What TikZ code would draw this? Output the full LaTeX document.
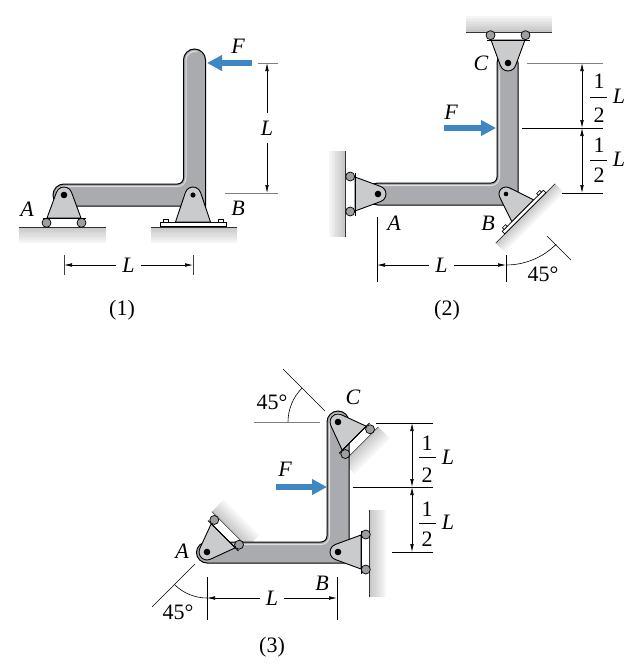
\documentclass[tikz,border=0pt]{standalone}
\usepackage{fontspec}
\setmainfont{Liberation Serif}
\usetikzlibrary{arrows.meta,calc}
\definecolor{barfill}{HTML}{A9ABAE}
\definecolor{supfill}{HTML}{CACBCD}
\definecolor{rollfill}{HTML}{9C9EA1}
\definecolor{forceblue}{HTML}{3E86C4}
\tikzset{
 barst/.style={fill=barfill, draw=black, line width=1pt, line join=miter},
 hilite/.style={draw=white!88!black, line width=1pt},
 supp/.style={fill=supfill, draw=black, line width=0.9pt, line join=round},
 roll/.style={fill=rollfill, draw=black, line width=0.7pt},
 plate/.style={fill=white, draw=black, line width=0.7pt},
 extl/.style={line width=0.6pt, draw=black},
 extg/.style={line width=0.6pt, draw=black!50},
 dimar/.style={line width=0.6pt, {Latex[length=8pt,width=3.6pt]}-{Latex[length=8pt,width=3.6pt]}},
 force/.style={draw=forceblue, line width=6.5pt, -{Triangle[length=15pt,width=15pt]}},
 lab/.style={font=\fontsize{22}{26}\selectfont\itshape, inner sep=0pt},
 num/.style={font=\fontsize{22}{26}\selectfont, inner sep=0pt},
 gaplab/.style={lab, fill=white, inner xsep=6pt, inner ysep=8pt},
}
% ground block: x, y, rotation, distance to surface, half length, width
\newcommand\gblock[6]{%
 \begin{scope}[shift={(#1,#2)},rotate=#3]
  \foreach \i in {0,...,9}{%
    \pgfmathtruncatemacro\cc{22-2*\i}%
    \fill[black!\cc] (-#5,{#4+\i*#6/10}) rectangle (#5,{#4+(\i+1)*#6/10+0.3});}
  \draw[line width=0.6pt, black!80] (-#5,#4) -- (#5,#4);
 \end{scope}}
% roller support: x, y, rotation, scale
\newcommand\rollsup[4]{%
 \begin{scope}[shift={(#1,#2)},rotate=#3,scale=#4]
  \draw[supp] (-17,23) -- (200.3:8) arc[start angle=200.3,end angle=339.7,radius=8] -- (17,23) -- cycle;
  \draw[line width=0.9pt] (-21.5,23) -- (21.5,23);
  \draw[roll] (-17.5,27.8) circle[radius=4.5];
  \draw[roll] (17.5,27.8) circle[radius=4.5];
  \fill (0,0) circle[radius=3.3];
 \end{scope}}
% pinned support: x, y, rotation, scale
\newcommand\pinsup[4]{%
 \begin{scope}[shift={(#1,#2)},rotate=#3,scale=#4]
  \draw[supp] (-17.5,27) -- (198.6:8) arc[start angle=198.6,end angle=341.4,radius=8] -- (17.5,27) -- cycle;
  \draw[plate] (-33,27) rectangle (33,31);
  \draw[plate] (-30,24.3) rectangle (-25,27);
  \draw[plate] (25,24.3) rectangle (30,27);
  \fill (0,0) circle[radius=2.6];
 \end{scope}}
\begin{document}
\begin{tikzpicture}[x=1pt,y=1pt,yscale=-1]
\useasboundingbox (0,0) rectangle (641,664);

%================ (1) ================
\gblock{62.5}{195}{0}{32}{43.5}{16}
\gblock{194}{195}{0}{32}{43}{16}
\draw[barst] (64,184) -- (177.5,184) arc[start angle=90,end angle=0,radius=6]
  -- (183.5,60) arc[start angle=180,end angle=360,radius=11]
  -- (205.5,206) -- (64,206) arc[start angle=90,end angle=270,radius=11] -- cycle;
\draw[hilite] ([shift={(205:8.5)}]64,195) arc[start angle=205,end angle=270,radius=8.5]
  -- (177.5,186.5) arc[start angle=90,end angle=0,radius=8.5]
  -- (186,60) arc[start angle=180,end angle=290,radius=8.5];
\rollsup{64}{195}{0}{1}
\pinsup{193}{195}{0}{1}
\coordinate (F1t) at (252,63); \coordinate (F1h) at (207,63);
\draw[force] (F1t) -- (F1h);
\node[lab] (F1) at (238,46) {F};
\draw[extg] (258,63) -- (278,63);
\draw[extg] (225,193) -- (278,193);
\coordinate (V1a) at (267,63); \coordinate (V1b) at (267,193);
\draw[dimar] (V1a) -- (V1b) node[midway,gaplab] (L1v) {L};
\draw[line width=0.6pt, black!75] (64,255) -- (64,275);
\draw[line width=0.6pt, black!75] (193,255) -- (193,275);
\coordinate (H1a) at (64,265); \coordinate (H1b) at (193,265);
\draw[dimar] (H1a) -- (H1b) node[midway,gaplab] (L1h) {L};
\node[lab] (A1) at (27,209) {A};
\node[lab] (B1) at (238,208) {B};
\node[num] (T1) at (122,310) {(1)};

%================ (2) ================
\gblock{509}{63}{180}{31}{43}{16}
\gblock{378}{194}{90}{33}{43}{16}
\gblock{506}{194}{-45}{27.5}{42}{12}
\draw[barst] (378,183) -- (491,183) arc[start angle=90,end angle=0,radius=6]
  -- (497,63) arc[start angle=180,end angle=360,radius=10.5]
  -- (518,205) -- (378,205) arc[start angle=90,end angle=270,radius=11] -- cycle;
\draw[hilite] ([shift={(230:8.5)}]378,194) arc[start angle=230,end angle=270,radius=8.5]
  -- (491,185.5) arc[start angle=90,end angle=0,radius=8.5] -- (499.5,70);
\rollsup{508}{63}{180}{1}
\rollsup{378}{194}{90}{1}
\pinsup{506}{194}{-45}{0.88}
\coordinate (F2t) at (444,128); \coordinate (F2h) at (496,128);
\draw[force] (F2t) -- (F2h);
\node[lab] (F2) at (451,112) {F};
\node[lab] (C2) at (481,63) {C};
\node[lab] (A2) at (394,223) {A};
\node[lab] (B2) at (488,223) {B};
\draw[extg] (527,63) -- (603,63);
\draw[extl] (522,128) -- (603,128);
\draw[extl] (562,193) -- (603,193);
\coordinate (V2a) at (582,63); \coordinate (V2b) at (582,128); \coordinate (V2c) at (582,193);
\draw[dimar] (V2a) -- (V2b);
\draw[dimar] (V2b) -- (V2c);
\node[num] (n2a) at (599,81) {1};
\draw[line width=0.8pt] (590,97.5) -- (607,97.5);
\node[num] (d2a) at (599,115.5) {2};
\node[lab] (l2a) at (619,96) {L};
\node[num] (n2b) at (599,145) {1};
\draw[line width=0.8pt] (590,160) -- (607,160);
\node[num] (d2b) at (599,175) {2};
\node[lab] (l2b) at (619,159) {L};
\draw[extl] (377,217) -- (377,282);
\draw[extl] (506,255) -- (506,282);
\coordinate (H2a) at (377,265); \coordinate (H2b) at (506,265);
\draw[dimar] (H2a) -- (H2b) node[midway,gaplab] (L2h) {L};
\draw[extl] (506,265) arc[start angle=90,end angle=45,radius=71];
\draw[extl] (547,236) -- (571,260);
\node[num] (ang2) at (543,274) {45°};
\node[num] (T2) at (447,310) {(2)};

%================ (3) ================
\gblock{207}{552}{-135}{32}{25}{16}
\gblock{338}{422}{-45}{32}{25}{16}
\gblock{338}{553.5}{-90}{31}{43.5}{17}
\draw[barst] (207,542) -- (321,542) arc[start angle=90,end angle=0,radius=6]
  -- (327,422) arc[start angle=180,end angle=360,radius=11]
  -- (349,563) -- (207,563) arc[start angle=90,end angle=270,radius=10.5] -- cycle;
\draw[hilite] ([shift={(240:8)}]207,552.5) arc[start angle=240,end angle=270,radius=8]
  -- (321,544.5) arc[start angle=90,end angle=0,radius=8.5]
  -- (329.5,422) arc[start angle=180,end angle=290,radius=8.5];
\rollsup{207}{552}{-135}{1}
\rollsup{338}{422}{-45}{1}
\rollsup{338}{552}{-90}{1}
\coordinate (F3t) at (276,487); \coordinate (F3h) at (327,487);
\draw[force] (F3t) -- (F3h);
\node[lab] (F3) at (285,469) {F};
\node[lab] (C3) at (353,397) {C};
\node[lab] (A3) at (182,551) {A};
\node[lab] (B3) at (322,583) {B};
\draw[extl] (376,423) -- (433,423);
\draw[extl] (353,487) -- (433,487);
\draw[extl] (392,552) -- (433,552);
\coordinate (V3a) at (412,423); \coordinate (V3b) at (412,487); \coordinate (V3c) at (412,552);
\draw[dimar] (V3a) -- (V3b);
\draw[dimar] (V3b) -- (V3c);
\node[num] (n3a) at (427,443) {1};
\draw[line width=0.8pt] (419,457.5) -- (436,457.5);
\node[num] (d3a) at (427,475) {2};
\node[lab] (l3a) at (448,457) {L};
\node[num] (n3b) at (427,509) {1};
\draw[line width=0.8pt] (419,523) -- (436,523);
\node[num] (d3b) at (427,539) {2};
\node[lab] (l3b) at (448,522) {L};
\draw[extl] (207,577) -- (207,620);
\draw[extl] (337,577) -- (337,620);
\coordinate (H3a) at (207,598); \coordinate (H3b) at (337,598);
\draw[dimar] (H3a) -- (H3b) node[midway,gaplab] (L3h) {L};
\draw[extg] (254,422) -- (320,422);
\draw[extl] (283,369) -- (325,411);
\draw[extl] (288,422) arc[start angle=180,end angle=225,radius=48];
\node[num] (ang3a) at (272,402) {45°};
\draw[extl] (195,564) -- (152,607);
\draw[extl] (207,598) arc[start angle=90,end angle=135,radius=46];
\node[num] (ang3b) at (178,612) {45°};
\node[num] (T3) at (272,647) {(3)};
\end{tikzpicture}
\end{document}
